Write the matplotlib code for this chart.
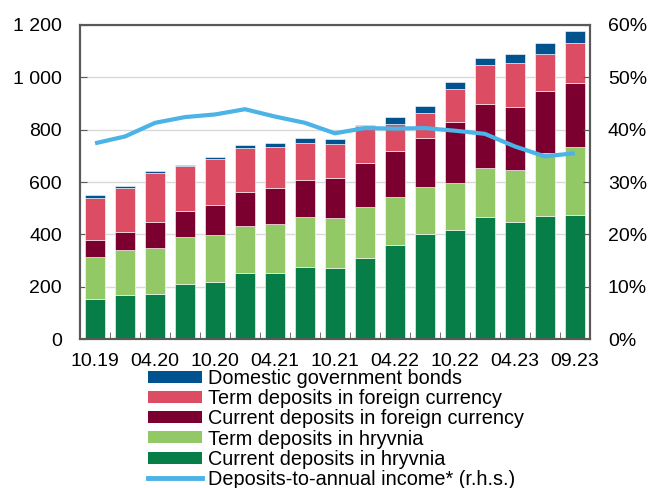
import matplotlib
matplotlib.use('Agg')
import matplotlib.pyplot as plt
from matplotlib.patches import Patch
from matplotlib.lines import Line2D
from matplotlib.ticker import FuncFormatter, MultipleLocator
import numpy as np

plt.rcParams['font.family'] = ['Liberation Sans', 'DejaVu Sans']

# quarterly observations, label every second one
PERIODS = ['10.19', '01.20', '04.20', '07.20', '10.20', '01.21', '04.21', '07.21',
           '10.21', '01.22', '04.22', '07.22', '10.22', '01.23', '04.23', '07.23', '09.23']
TICK_LABELS = ['10.19', '04.20', '10.20', '04.21', '10.21', '04.22', '10.22', '04.23', '09.23']

# UAH bn
current_uah = [152, 168, 172, 209, 217, 251, 251, 276, 270, 308, 358, 400, 415, 468, 446, 471, 475]
term_uah = [160, 171, 177, 181, 180, 182, 188, 190, 194, 198, 183, 180, 181, 186, 199, 240, 260]
current_fx = [65, 72, 97, 98, 114, 129, 137, 140, 150, 165, 176, 188, 232, 243, 243, 235, 242]
term_fx = [162, 165, 188, 172, 176, 169, 159, 144, 130, 142, 106, 94, 126, 148, 167, 144, 155]
gov_bonds = [10, 10, 9, 6, 9, 10, 13, 17, 22, 5, 27, 28, 29, 29, 35, 41, 45]

# %, right axis
dep_to_income = [37.4, 38.7, 41.3, 42.4, 42.9, 43.9, 42.5, 41.3, 39.3, 40.3, 40.2, 40.3,
                 39.8, 39.2, 36.8, 34.9, 35.5]

SERIES = [
    ('Current deposits in hryvnia', current_uah, '#077D47'),
    ('Term deposits in hryvnia', term_uah, '#92C865'),
    ('Current deposits in foreign currency', current_fx, '#7B0030'),
    ('Term deposits in foreign currency', term_fx, '#DC4C63'),
    ('Domestic government bonds', gov_bonds, '#00538F'),
]
LINE_LABEL = 'Deposits-to-annual income* (r.h.s.)'
LINE_COLOR = '#4BB3E6'

fig = plt.figure(figsize=(6.51, 4.88), dpi=100)
ax = fig.add_axes([0.123, 0.305, 0.783, 0.644])

x = np.arange(len(PERIODS))
bottom = np.zeros(len(PERIODS))
for name, vals, color in SERIES:
    ax.bar(x, vals, width=0.65, bottom=bottom, color=color,
           edgecolor='white', linewidth=0.4, zorder=2)
    bottom += np.array(vals)

ax.set_ylim(0, 1200)
ax.set_xlim(-0.5, len(PERIODS) - 0.5)
ax.yaxis.set_major_locator(MultipleLocator(200))
ax.yaxis.set_major_formatter(FuncFormatter(lambda v, p: f'{v:,.0f}'.replace(',', ' ')))
ax.grid(axis='y', color='#D9D9D9', linewidth=1, zorder=0)
ax.set_axisbelow(True)

ax.set_xticks(x[::2][:8].tolist() + [x[-1]])
ax.set_xticklabels(TICK_LABELS)
ax.set_xticks(x[:-1] + 0.5, minor=True)
ax.tick_params(axis='x', which='major', length=0, labelsize=14, pad=10)
ax.tick_params(axis='x', which='minor', direction='in', length=5, color='#595959')
ax.tick_params(axis='y', direction='in', length=5, color='#595959', labelsize=14, pad=13)

ax2 = ax.twinx()
ax2.plot(x, dep_to_income, color=LINE_COLOR, linewidth=3, solid_capstyle='butt', zorder=3)
ax2.set_ylim(0, 60)
ax2.yaxis.set_major_locator(MultipleLocator(10))
ax2.yaxis.set_major_formatter(FuncFormatter(lambda v, p: f'{v:.0f}%'))
ax2.tick_params(axis='y', direction='in', length=5, color='#595959', labelsize=14, pad=13)

for a in (ax, ax2):
    for s in a.spines.values():
        s.set_color('#595959')
        s.set_linewidth(1.5)

handles = [Patch(facecolor=c, edgecolor='none') for _, _, c in SERIES[::-1]]
handles.append(Line2D([0], [0], color=LINE_COLOR, linewidth=3.5))
labels = [n for n, _, _ in SERIES[::-1]] + [LINE_LABEL]
fig.legend(handles, labels, loc='upper left', bbox_to_anchor=(0.227, 0.244),
           frameon=False, fontsize=14.3, handlelength=2.75, handleheight=0.55,
           labelspacing=0.06, handletextpad=0.3, borderpad=0, borderaxespad=0)

fig.savefig('out.png', dpi=100)
